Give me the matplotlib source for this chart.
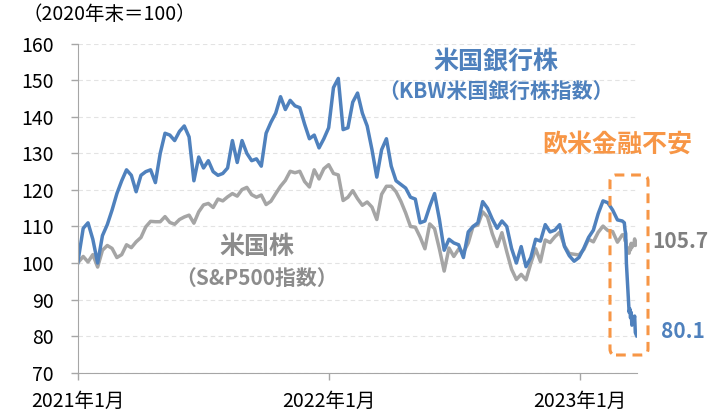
import matplotlib
matplotlib.use('Agg')
import matplotlib.pyplot as plt
from matplotlib.patches import FancyBboxPatch
from matplotlib.transforms import IdentityTransform
import pandas as pd

plt.rcParams['font.family'] = ['Noto Sans CJK JP', 'DejaVu Sans']

# base date, weekly Friday closes, then daily closes for the March 2023 turmoil
start_date = '2020-12-31'
weekly_first, weekly_last = '2021-01-08', '2023-03-03'
tail_dates = ['2023-03-06', '2023-03-07', '2023-03-08', '2023-03-09', '2023-03-10',
              '2023-03-13', '2023-03-14', '2023-03-15', '2023-03-16', '2023-03-17',
              '2023-03-20', '2023-03-21', '2023-03-22', '2023-03-23', '2023-03-24']

# KBW bank index (2020 year end = 100)
kbw_weekly = [100, 109.5, 111, 106.5, 100, 107.5, 110.5, 114.5, 119, 122.5,
              125.5, 124, 119.5, 124, 125, 125.5, 122, 130, 135.5, 135,
              133.5, 136, 137.5, 134.5, 122.5, 129, 126, 128, 125, 124,
              124.5, 126, 133.5, 127.5, 133.5, 130, 128, 128.5, 126.5, 135.5,
              138.5, 141, 145.5, 142, 144.5, 143, 142.5, 138, 134, 135,
              131.5, 134, 137, 148, 150.5, 136.5, 137, 144, 146.5, 141,
              137.5, 131, 123.5, 131, 134, 126.5, 122.5, 121.5, 120.5, 118,
              117.5, 111, 111.5, 115.5, 119, 112, 103.5, 106.5, 105.5, 105,
              101.5, 108.5, 110, 111, 116.8, 115, 112, 109.5, 111.5, 110,
              104, 100, 104.5, 99, 101.5, 106.5, 106, 110.5, 108.5, 109,
              110.5, 104.5, 102, 100.5, 101.5, 104, 107, 109, 113.5, 117,
              116.5, 114.5, 111.8, 111.5]
kbw_tail = [111, 109, 108, 100, 96.5, 86.5, 87.5, 85, 86.5, 83,
            84.5, 85.5, 81, 80.5, 80.1]

# S&P500 (2020 year end = 100)
sp_weekly = [100, 101.8, 100.3, 102.3, 98.9, 103.5, 104.8, 104.0, 101.5, 102.3,
             105.0, 104.2, 105.8, 107.0, 109.9, 111.4, 111.3, 111.3, 112.7, 111.1,
             110.6, 111.9, 112.6, 113.1, 110.9, 114.0, 115.9, 116.3, 115.2, 117.5,
             117.0, 118.1, 119.0, 118.3, 120.1, 120.7, 118.7, 118.0, 118.6, 116.0,
             116.9, 119.0, 121.0, 122.6, 125.1, 124.7, 125.1, 122.3, 120.8, 125.5,
             123.0, 125.8, 126.9, 124.5, 124.1, 117.1, 118.0, 119.8, 117.6, 115.8,
             116.7, 115.3, 111.9, 118.8, 121.0, 121.0, 119.5, 116.9, 113.7, 110.0,
             109.8, 107.1, 103.9, 110.7, 109.4, 103.9, 97.8, 104.1, 101.8, 103.8,
             102.9, 105.5, 110.0, 110.4, 114.0, 112.6, 108.0, 104.5, 108.3, 103.1,
             98.3, 95.5, 96.9, 95.4, 99.9, 103.9, 100.4, 106.3, 105.6, 107.2,
             108.4, 104.7, 102.6, 102.4, 102.2, 103.7, 106.5, 105.8, 108.4, 110.1,
             108.9, 108.6, 105.7, 107.7]
sp_tail = [107.8, 106.1, 106.3, 104.3, 102.8, 102.7, 104.4, 103.6, 105.4, 104.3,
           105.2, 106.6, 104.8, 105.1, 105.7]

tick_dates = ['2021-01-01', '2022-01-01', '2023-01-01']
tick_labels = ['2021年1月', '2022年1月', '2023年1月']
y_ticks = [70, 80, 90, 100, 110, 120, 130, 140, 150, 160]

dates = pd.to_datetime([start_date]).append(pd.date_range(weekly_first, weekly_last, freq='W-FRI'))
dates = dates.append(pd.to_datetime(tail_dates))
kbw = kbw_weekly + kbw_tail
sp500 = sp_weekly + sp_tail

BLUE = '#4F81BD'
GRAY = '#A5A5A5'
ORANGE = '#F79646'
W, H = 710, 416

fig = plt.figure(figsize=(W / 100, H / 100), dpi=100)
ax = fig.add_axes([77.7 / W, 43.3 / H, 559 / W, 329 / H])

ax.plot(dates, sp500, color=GRAY, lw=2.5, solid_joinstyle='round')
ax.plot(dates, kbw, color=BLUE, lw=2.5, solid_joinstyle='round')

ax.set_ylim(70, 160)
ax.set_yticks(y_ticks)
ax.set_xlim(pd.Timestamp('2020-12-31'), pd.Timestamp('2023-03-24'))
ax.set_xticks(pd.to_datetime(tick_dates))
ax.set_xticklabels(tick_labels)
ax.grid(axis='y', color='#E3E3E3', ls=(0, (4, 3)), lw=0.8)
ax.set_axisbelow(True)
for s in ['top', 'right']:
    ax.spines[s].set_visible(False)
for s in ['left', 'bottom']:
    ax.spines[s].set_color('#A6A6A6')
ax.tick_params(axis='both', color='#A6A6A6', length=5, width=1, labelsize=14)
ax.tick_params(axis='y', pad=12)
ax.tick_params(axis='x', pad=8)


def px(x, y):
    return x / W, 1 - y / H


fig.text(*px(109, 15), '（2020年末＝100）', fontsize=14, ha='center', va='center')
fig.text(*px(496, 62), '米国銀行株', fontsize=18, fontweight='bold', color=BLUE,
         ha='center', va='center')
fig.text(*px(496, 92), '（KBW米国銀行株指数）', fontsize=15, fontweight='bold', color=BLUE,
         ha='center', va='center')
fig.text(*px(617, 145), '欧米金融不安', fontsize=18, fontweight='bold', color=ORANGE,
         ha='center', va='center')
fig.text(*px(257, 247), '米国株', fontsize=18, fontweight='bold', color='#8C8C8C',
         ha='center', va='center')
fig.text(*px(257, 278), '（S&P500指数）', fontsize=15, fontweight='bold', color='#8C8C8C',
         ha='center', va='center')
fig.text(*px(652, 241), f'{sp500[-1]:.1f}', fontsize=15, fontweight='bold', color='#7F7F7F',
         ha='left', va='center')
fig.text(*px(661, 331), f'{kbw[-1]:.1f}', fontsize=15, fontweight='bold', color=BLUE,
         ha='left', va='center')

box = FancyBboxPatch((610, H - 355), 38, 180, boxstyle='round,pad=0,rounding_size=6',
                     transform=IdentityTransform(), fill=False, edgecolor=ORANGE,
                     lw=2.2, ls=(0, (3.2, 2.2)))
fig.add_artist(box)

fig.savefig('out.png', dpi=100)
